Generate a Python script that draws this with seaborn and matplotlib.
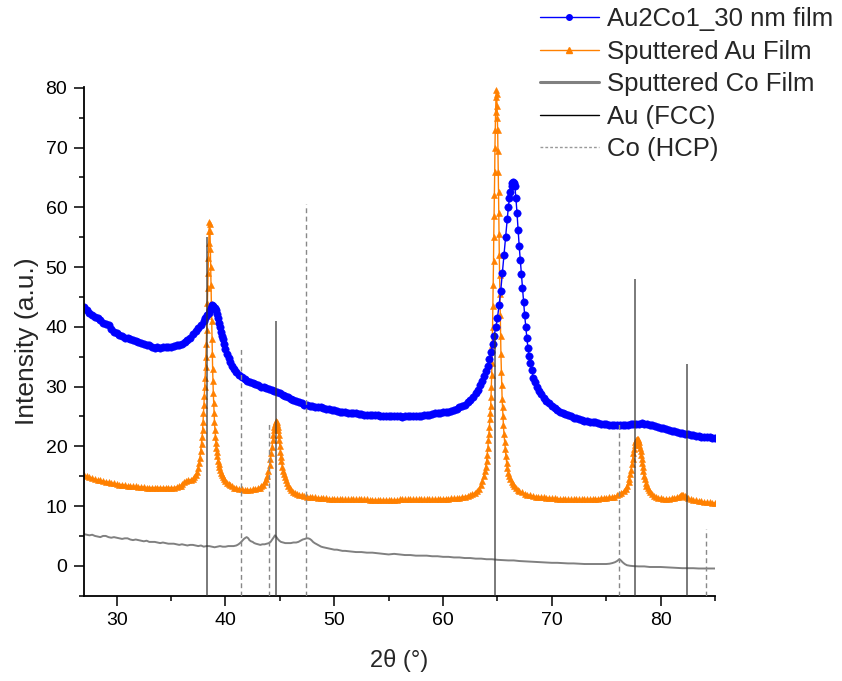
import matplotlib
matplotlib.use("Agg")
import matplotlib.pyplot as plt
import seaborn as sns
from matplotlib.lines import Line2D
from matplotlib.ticker import MultipleLocator

# ---------------- data ----------------
series_names = ["Au2Co1_30 nm film", "Sputtered Au Film", "Sputtered Co Film",
                "Au (FCC)", "Co (HCP)"]

blue_x = [27.0, 27.25, 27.5, 27.75, 28.0, 28.25, 28.5, 28.75, 29.0, 29.25,
          29.5, 29.75, 30.0, 30.25, 30.5, 30.75, 31.0, 31.25, 31.5, 31.75,
          32.0, 32.25, 32.5, 32.75, 33.0, 33.25, 33.5, 33.75, 34.0, 34.25,
          34.5, 34.75, 35.0, 35.25, 35.5, 35.75, 36.0, 36.25, 36.5, 36.75,
          37.0, 37.25, 37.5, 37.75, 38.0, 38.15, 38.3, 38.45, 38.6, 38.7,
          38.8, 38.9, 39.0, 39.1, 39.2, 39.3, 39.4, 39.5, 39.6, 39.7,
          39.8, 39.9, 40.0, 40.15, 40.3, 40.45, 40.6, 40.8, 41.0, 41.25,
          41.5, 41.75, 42.0, 42.25, 42.5, 42.75, 43.0, 43.25, 43.5, 43.75,
          44.0, 44.25, 44.5, 44.75, 45.0, 45.25, 45.5, 45.75, 46.0, 46.25,
          46.5, 46.75, 47.0, 47.25, 47.5, 47.75, 48.0, 48.25, 48.5, 48.75,
          49.0, 49.25, 49.5, 49.75, 50.0, 50.25, 50.5, 50.75, 51.0, 51.25,
          51.5, 51.75, 52.0, 52.25, 52.5, 52.75, 53.0, 53.25, 53.5, 53.75,
          54.0, 54.25, 54.5, 54.75, 55.0, 55.25, 55.5, 55.75, 56.0, 56.25,
          56.5, 56.75, 57.0, 57.25, 57.5, 57.75, 58.0, 58.25, 58.5, 58.75,
          59.0, 59.25, 59.5, 59.75, 60.0, 60.25, 60.5, 60.75, 61.0, 61.25,
          61.5, 61.75, 62.0, 62.25, 62.5, 62.75, 63.0, 63.2, 63.4, 63.6,
          63.8, 63.95, 64.1, 64.25, 64.4, 64.55, 64.7, 64.85, 65.0, 65.15,
          65.3, 65.45, 65.6, 65.75, 65.9, 66.0, 66.1, 66.2, 66.3, 66.38,
          66.45, 66.52, 66.6, 66.7, 66.8, 66.9, 67.0, 67.1, 67.2, 67.3,
          67.4, 67.5, 67.6, 67.7, 67.8, 67.9, 68.0, 68.15, 68.3, 68.45,
          68.6, 68.8, 69.0, 69.25, 69.5, 69.75, 70.0, 70.25, 70.5, 70.75,
          71.0, 71.25, 71.5, 71.75, 72.0, 72.25, 72.5, 72.75, 73.0, 73.25,
          73.5, 73.75, 74.0, 74.25, 74.5, 74.75, 75.0, 75.25, 75.5, 75.75,
          76.0, 76.25, 76.5, 76.75, 77.0, 77.25, 77.5, 77.75, 78.0, 78.25,
          78.5, 78.75, 79.0, 79.25, 79.5, 79.75, 80.0, 80.25, 80.5, 80.75,
          81.0, 81.25, 81.5, 81.75, 82.0, 82.25, 82.5, 82.75, 83.0, 83.25,
          83.5, 83.75, 84.0, 84.25, 84.5, 84.75, 85.0]
blue_y = [43.3, 42.8, 42.3, 41.9, 41.6, 41.5, 41.1, 40.7, 40.5, 40.3,
          39.6, 39.2, 38.9, 38.7, 38.4, 38.2, 38.1, 37.9, 37.8, 37.6,
          37.5, 37.3, 37.2, 37.0, 36.9, 36.7, 36.5, 36.6, 36.5, 36.6,
          36.6, 36.6, 36.7, 36.8, 36.9, 37.0, 37.2, 37.5, 37.8, 38.2,
          38.8, 39.3, 39.8, 40.3, 40.9, 41.4, 41.9, 42.3, 42.8, 43.2,
          43.6, 43.5, 43.2, 42.8, 42.2, 41.5, 40.7, 40.0, 39.2, 38.5,
          37.9, 37.1, 36.3, 35.5, 34.8, 34.1, 33.5, 32.9, 32.4, 32.0,
          31.6, 31.3, 31.0, 30.8, 30.6, 30.4, 30.2, 30.0, 29.9, 29.7,
          29.6, 29.4, 29.3, 29.1, 28.9, 28.6, 28.4, 28.2, 28.0, 27.8,
          27.6, 27.4, 27.2, 27.0, 26.9, 26.8, 26.7, 26.6, 26.6, 26.5,
          26.4, 26.3, 26.2, 26.1, 26.0, 25.9, 25.8, 25.8, 25.7, 25.6,
          25.6, 25.5, 25.5, 25.4, 25.4, 25.3, 25.3, 25.3, 25.2, 25.2,
          25.2, 25.1, 25.1, 25.1, 25.1, 25.0, 25.0, 25.0, 25.0, 24.9,
          25.0, 25.0, 25.0, 25.0, 25.0, 25.1, 25.1, 25.2, 25.2, 25.3,
          25.4, 25.5, 25.5, 25.6, 25.7, 25.8, 25.8, 25.9, 26.0, 26.2,
          26.5, 26.7, 27.0, 27.4, 27.8, 28.3, 28.9, 29.5, 30.2, 31.0,
          31.8, 32.6, 33.5, 34.6, 35.8, 37.1, 38.5, 40.0, 41.5, 43.6,
          46.0, 49.0, 52.0, 55.0, 58.0, 60.0, 61.5, 62.6, 63.5, 64.0,
          64.2, 64.0, 63.6, 61.5, 59.0, 56.2, 53.5, 51.2, 48.8, 46.5,
          44.2, 42.0, 40.0, 38.2, 36.5, 35.2, 34.0, 32.7, 31.5, 30.7,
          30.0, 29.3, 28.7, 28.1, 27.6, 27.2, 26.8, 26.4, 26.1, 25.8,
          25.6, 25.4, 25.2, 25.0, 24.8, 24.7, 24.5, 24.4, 24.3, 24.2,
          24.1, 24.1, 24.0, 23.9, 23.8, 23.8, 23.7, 23.6, 23.6, 23.5,
          23.5, 23.5, 23.6, 23.6, 23.6, 23.7, 23.7, 23.8, 23.8, 23.9,
          23.8, 23.7, 23.6, 23.5, 23.4, 23.2, 23.1, 23.0, 22.9, 22.7,
          22.6, 22.5, 22.4, 22.3, 22.2, 22.1, 22.0, 21.9, 21.9, 21.8,
          21.7, 21.6, 21.6, 21.5, 21.5, 21.4, 21.4]

orange_x = [27.0, 27.25, 27.5, 27.75, 28.0, 28.25, 28.5, 28.75, 29.0, 29.25,
            29.5, 29.75, 30.0, 30.25, 30.5, 30.75, 31.0, 31.25, 31.5, 31.75,
            32.0, 32.25, 32.5, 32.75, 33.0, 33.25, 33.5, 33.75, 34.0, 34.25,
            34.5, 34.75, 35.0, 35.25, 35.5, 35.75, 35.9, 36.05, 36.2, 36.4,
            36.6, 36.8, 37.0, 37.15, 37.3, 37.4, 37.5, 37.58, 37.65, 37.72,
            37.8, 37.85, 37.9, 37.94, 37.98, 38.02, 38.06, 38.1, 38.13, 38.17,
            38.2, 38.24, 38.27, 38.3, 38.34, 38.37, 38.4, 38.43, 38.46, 38.49,
            38.52, 38.55, 38.58, 38.61, 38.64, 38.67, 38.7, 38.73, 38.76, 38.79,
            38.82, 38.85, 38.88, 38.92, 38.95, 38.99, 39.03, 39.08, 39.12, 39.16,
            39.21, 39.26, 39.32, 39.38, 39.45, 39.52, 39.6, 39.7, 39.8, 39.9,
            40.0, 40.15, 40.3, 40.45, 40.6, 40.8, 41.0, 41.25, 41.5, 41.75,
            42.0, 42.25, 42.5, 42.75, 43.0, 43.15, 43.3, 43.45, 43.6, 43.72,
            43.85, 43.95, 44.05, 44.12, 44.2, 44.28, 44.35, 44.4, 44.45, 44.5,
            44.55, 44.6, 44.65, 44.7, 44.75, 44.8, 44.85, 44.9, 44.95, 45.0,
            45.05, 45.1, 45.15, 45.22, 45.3, 45.37, 45.45, 45.55, 45.65, 45.78,
            45.9, 46.05, 46.2, 46.4, 46.6, 46.8, 47.0, 47.25, 47.5, 47.75,
            48.0, 48.25, 48.5, 48.75, 49.0, 49.25, 49.5, 49.75, 50.0, 50.25,
            50.5, 50.75, 51.0, 51.25, 51.5, 51.75, 52.0, 52.25, 52.5, 52.75,
            53.0, 53.25, 53.5, 53.75, 54.0, 54.25, 54.5, 54.75, 55.0, 55.25,
            55.5, 55.75, 56.0, 56.25, 56.5, 56.75, 57.0, 57.25, 57.5, 57.75,
            58.0, 58.25, 58.5, 58.75, 59.0, 59.25, 59.5, 59.75, 60.0, 60.25,
            60.5, 60.75, 61.0, 61.25, 61.5, 61.75, 62.0, 62.25, 62.5, 62.7,
            62.9, 63.1, 63.3, 63.45, 63.6, 63.72, 63.85, 63.92, 64.0, 64.06,
            64.12, 64.17, 64.22, 64.26, 64.3, 64.34, 64.38, 64.41, 64.44, 64.47,
            64.5, 64.53, 64.55, 64.58, 64.61, 64.64, 64.66, 64.69, 64.72, 64.75,
            64.77, 64.8, 64.83, 64.87, 64.9, 64.93, 64.96, 64.99, 65.02, 65.05,
            65.07, 65.1, 65.12, 65.15, 65.17, 65.2, 65.23, 65.26, 65.29, 65.32,
            65.36, 65.4, 65.43, 65.47, 65.5, 65.55, 65.6, 65.66, 65.72, 65.78,
            65.85, 65.92, 66.0, 66.1, 66.2, 66.3, 66.4, 66.55, 66.7, 66.85,
            67.0, 67.25, 67.5, 67.75, 68.0, 68.25, 68.5, 68.75, 69.0, 69.25,
            69.5, 69.75, 70.0, 70.25, 70.5, 70.75, 71.0, 71.25, 71.5, 71.75,
            72.0, 72.25, 72.5, 72.75, 73.0, 73.25, 73.5, 73.75, 74.0, 74.25,
            74.5, 74.75, 75.0, 75.25, 75.5, 75.75, 76.0, 76.2, 76.4, 76.6,
            76.8, 76.93, 77.05, 77.12, 77.2, 77.28, 77.35, 77.42, 77.5, 77.56,
            77.62, 77.68, 77.75, 77.82, 77.88, 77.94, 78.0, 78.05, 78.1, 78.15,
            78.2, 78.25, 78.3, 78.36, 78.42, 78.48, 78.55, 78.62, 78.7, 78.8,
            78.9, 79.05, 79.2, 79.4, 79.6, 79.8, 80.0, 80.25, 80.5, 80.75,
            81.0, 81.25, 81.5, 81.65, 81.8, 81.9, 82.0, 82.1, 82.2, 82.35,
            82.5, 82.75, 83.0, 83.25, 83.5, 83.75, 84.0, 84.25, 84.5, 84.75,
            85.0]
orange_y = [15.2, 15.0, 14.9, 14.7, 14.5, 14.4, 14.3, 14.2, 14.1, 14.0,
            13.9, 13.8, 13.7, 13.6, 13.6, 13.5, 13.4, 13.4, 13.3, 13.3,
            13.2, 13.2, 13.2, 13.1, 13.1, 13.1, 13.1, 13.1, 13.1, 13.1,
            13.1, 13.1, 13.1, 13.1, 13.2, 13.3, 13.4, 13.7, 14.0, 14.2,
            14.3, 14.4, 14.6, 14.9, 15.2, 15.7, 16.4, 17.2, 18.0, 19.2,
            20.4, 21.6, 22.8, 24.1, 25.5, 27.0, 28.5, 30.0, 31.5, 33.2,
            35.0, 37.2, 39.5, 41.8, 44.0, 46.5, 49.0, 51.5, 54.0, 56.0,
            57.5, 57.2, 56.0, 53.0, 50.0, 47.0, 44.0, 41.0, 38.0, 35.5,
            33.0, 31.0, 29.0, 27.2, 25.5, 24.1, 22.8, 21.6, 20.5, 19.7,
            19.0, 18.3, 17.6, 17.1, 16.6, 16.1, 15.6, 15.2, 14.8, 14.5,
            14.2, 13.9, 13.7, 13.5, 13.3, 13.1, 13.0, 12.9, 12.8, 12.7,
            12.7, 12.7, 12.8, 12.9, 13.0, 13.1, 13.3, 13.6, 14.0, 14.5,
            15.0, 15.8, 16.8, 17.8, 18.8, 19.9, 21.0, 21.9, 22.7, 23.3,
            23.8, 24.1, 24.2, 24.1, 23.8, 23.3, 22.7, 21.9, 21.0, 20.0,
            19.0, 18.2, 17.5, 16.6, 15.8, 15.3, 14.8, 14.3, 13.8, 13.4,
            13.0, 12.7, 12.4, 12.2, 12.0, 11.9, 11.8, 11.7, 11.6, 11.55,
            11.5, 11.45, 11.4, 11.35, 11.3, 11.3, 11.25, 11.2, 11.2, 11.2,
            11.15, 11.1, 11.1, 11.1, 11.1, 11.1, 11.1, 11.1, 11.1, 11.1,
            11.1, 11.05, 11.05, 11.0, 11.0, 11.0, 11.0, 11.0, 11.0, 11.0,
            11.0, 11.05, 11.1, 11.1, 11.1, 11.1, 11.1, 11.1, 11.1, 11.1,
            11.1, 11.1, 11.1, 11.1, 11.1, 11.15, 11.15, 11.2, 11.2, 11.25,
            11.25, 11.3, 11.3, 11.35, 11.4, 11.5, 11.6, 11.7, 11.8, 12.0,
            12.2, 12.5, 12.9, 13.5, 14.2, 15.0, 15.8, 16.6, 17.5, 18.6,
            19.8, 21.0, 22.1, 23.3, 24.5, 25.6, 26.8, 28.3, 30.0, 32.0,
            34.0, 37.0, 40.0, 43.5, 47.0, 51.0, 55.0, 58.5, 62.0, 66.0,
            70.0, 73.0, 76.0, 78.5, 79.6, 79.0, 77.0, 75.0, 73.0, 69.5,
            66.0, 62.5, 59.0, 55.5, 52.0, 48.7, 45.5, 42.0, 38.5, 35.5,
            32.5, 30.2, 28.0, 26.5, 25.0, 23.5, 22.1, 20.8, 19.5, 18.3,
            17.2, 16.3, 15.6, 15.0, 14.5, 14.1, 13.7, 13.3, 13.0, 12.7,
            12.5, 12.3, 12.1, 11.9, 11.8, 11.7, 11.6, 11.55, 11.5, 11.45,
            11.4, 11.35, 11.3, 11.3, 11.25, 11.2, 11.2, 11.15, 11.15, 11.1,
            11.1, 11.1, 11.1, 11.1, 11.1, 11.15, 11.15, 11.2, 11.2, 11.25,
            11.3, 11.35, 11.4, 11.45, 11.5, 11.6, 11.8, 12.0, 12.2, 12.5,
            12.9, 13.4, 14.0, 14.6, 15.3, 16.1, 17.0, 17.9, 18.8, 19.5,
            20.2, 20.7, 21.0, 21.2, 21.3, 21.1, 20.8, 20.3, 19.8, 19.2,
            18.5, 17.8, 17.2, 16.5, 15.8, 15.1, 14.5, 13.9, 13.4, 13.0,
            12.7, 12.3, 12.0, 11.7, 11.5, 11.4, 11.3, 11.25, 11.2, 11.25,
            11.3, 11.4, 11.5, 11.6, 11.7, 11.8, 11.8, 11.8, 11.7, 11.5,
            11.3, 11.1, 11.0, 10.95, 10.9, 10.8, 10.7, 10.65, 10.6, 10.55,
            10.5]

gray_x = [27.0, 27.25, 27.5, 27.75, 28.0, 28.25, 28.5, 28.75, 29.0, 29.25,
          29.5, 29.75, 30.0, 30.25, 30.5, 30.75, 31.0, 31.25, 31.5, 31.75,
          32.0, 32.25, 32.5, 32.75, 33.0, 33.25, 33.5, 33.75, 34.0, 34.25,
          34.5, 34.75, 35.0, 35.25, 35.5, 35.75, 36.0, 36.25, 36.5, 36.75,
          37.0, 37.25, 37.5, 37.75, 38.0, 38.25, 38.5, 38.75, 39.0, 39.25,
          39.5, 39.75, 40.0, 40.25, 40.5, 40.75, 41.0, 41.2, 41.4, 41.55,
          41.7, 41.85, 41.95, 42.1, 42.2, 42.35, 42.5, 42.65, 42.8, 43.0,
          43.2, 43.4, 43.6, 43.8, 44.0, 44.15, 44.3, 44.45, 44.55, 44.65,
          44.8, 44.95, 45.1, 45.3, 45.5, 45.75, 46.0, 46.25, 46.5, 46.7,
          46.9, 47.1, 47.3, 47.45, 47.6, 47.75, 47.9, 48.05, 48.2, 48.4,
          48.6, 48.8, 49.0, 49.25, 49.5, 49.75, 50.0, 50.25, 50.5, 50.75,
          51.0, 51.5, 52.0, 52.5, 53.0, 53.5, 54.0, 54.5, 55.0, 55.5,
          56.0, 56.5, 57.0, 57.5, 58.0, 58.5, 59.0, 59.5, 60.0, 60.5,
          61.0, 61.5, 62.0, 62.5, 63.0, 63.5, 64.0, 64.5, 65.0, 65.5,
          66.0, 66.5, 67.0, 67.5, 68.0, 68.5, 69.0, 69.5, 70.0, 70.5,
          71.0, 71.5, 72.0, 72.5, 73.0, 73.5, 74.0, 74.5, 75.0, 75.3,
          75.55, 75.8, 76.0, 76.2, 76.35, 76.5, 76.7, 76.9, 77.2, 77.5,
          78.0, 78.5, 79.0, 79.5, 80.0, 80.5, 81.0, 81.5, 82.0, 82.5,
          83.0, 83.5, 84.0, 84.5, 85.0]
gray_y = [5.3, 5.2, 5.1, 5.2, 5.0, 4.9, 4.8, 5.0, 5.0, 4.8,
          4.7, 4.8, 4.7, 4.6, 4.5, 4.6, 4.6, 4.4, 4.3, 4.4,
          4.3, 4.2, 4.1, 4.2, 4.0, 4.0, 4.0, 3.9, 3.8, 3.9,
          3.8, 3.7, 3.7, 3.7, 3.6, 3.5, 3.6, 3.5, 3.4, 3.5,
          3.5, 3.4, 3.3, 3.4, 3.2, 3.3, 3.3, 3.2, 3.1, 3.2,
          3.3, 3.2, 3.2, 3.3, 3.3, 3.3, 3.4, 3.6, 3.9, 4.2,
          4.5, 4.7, 4.8, 4.6, 4.3, 4.1, 4.0, 3.8, 3.7, 3.6,
          3.5, 3.6, 3.6, 3.7, 3.8, 4.0, 4.4, 4.8, 5.1, 4.9,
          4.5, 4.2, 4.0, 3.9, 3.8, 3.8, 3.8, 3.9, 3.9, 4.0,
          4.2, 4.4, 4.5, 4.6, 4.6, 4.5, 4.3, 4.0, 3.8, 3.6,
          3.4, 3.2, 3.1, 3.0, 2.9, 2.8, 2.7, 2.7, 2.6, 2.5,
          2.5, 2.4, 2.3, 2.3, 2.2, 2.2, 2.1, 2.0, 1.9, 2.0,
          1.9, 1.8, 1.8, 1.7, 1.7, 1.7, 1.6, 1.6, 1.5, 1.5,
          1.4, 1.4, 1.3, 1.3, 1.2, 1.2, 1.1, 1.1, 1.0, 0.95,
          0.9, 0.9, 0.8, 0.75, 0.7, 0.65, 0.6, 0.55, 0.5, 0.5,
          0.45, 0.4, 0.4, 0.35, 0.3, 0.3, 0.3, 0.3, 0.3, 0.35,
          0.45, 0.6, 0.8, 1.1, 0.9, 0.6, 0.3, 0.1, 0.0, -0.05,
          -0.1, -0.1, -0.2, -0.2, -0.2, -0.25, -0.3, -0.35, -0.4, -0.4,
          -0.4, -0.45, -0.45, -0.45, -0.45]

au_fcc_pos = [38.32, 44.68, 64.77, 77.64, 82.42]
au_fcc_int = [55.0, 41.0, 39.0, 48.0, 33.8]
co_hcp_pos = [41.42, 43.97, 47.37, 76.16, 84.17]
co_hcp_int = [36.3, 24.3, 60.6, 24.1, 6.2]

x_ticks = [30, 40, 50, 60, 70, 80]
y_ticks = [0, 10, 20, 30, 40, 50, 60, 70, 80]

# ---------------- styling ----------------
sns.set_style("ticks")
plt.rcParams["font.family"] = ["Liberation Sans", "DejaVu Sans"]

blue_c = "#0000FF"
orange_c = "#FF8000"
gray_c = "#808080"

fig = plt.figure(figsize=(8.42, 6.81), dpi=100)
ax = fig.add_axes([0.0998, 0.1253, 0.7494, 0.7474])

sns.lineplot(x=gray_x, y=gray_y, ax=ax, color=gray_c, linewidth=1.4,
             sort=False, estimator=None)
sns.lineplot(x=orange_x, y=orange_y, ax=ax, color=orange_c, linewidth=1.0,
             marker="^", markersize=5, markeredgewidth=0.4,
             markeredgecolor=orange_c, sort=False, estimator=None)
sns.lineplot(x=blue_x, y=blue_y, ax=ax, color=blue_c, linewidth=1.0,
             marker="o", markersize=5.3, markeredgewidth=0.4,
             markeredgecolor=blue_c, sort=False, estimator=None)

ylo, yhi = -5, 80.2
ax.vlines(au_fcc_pos, ylo, au_fcc_int, colors="#333333", linewidth=1.3,
          alpha=0.7, zorder=5)
ax.vlines(co_hcp_pos, ylo, co_hcp_int, colors="#888888", linewidth=1.0,
          linestyles=(0, (3.5, 2.5)), zorder=5)

ax.set_xlim(27, 85)
ax.set_ylim(ylo, yhi)
ax.set_xticks(x_ticks)
ax.set_yticks(y_ticks)
ax.xaxis.set_minor_locator(MultipleLocator(5))
ax.yaxis.set_minor_locator(MultipleLocator(5))
ax.tick_params(axis="both", which="major", direction="out", length=7, width=1.1,
               labelsize=14, pad=5, color="black", labelcolor="black")
ax.tick_params(axis="both", which="minor", direction="out", length=3.5, width=1.1,
               color="black")
sns.despine(ax=ax, top=True, right=True)
for s in ["left", "bottom"]:
    ax.spines[s].set_color("black")
    ax.spines[s].set_linewidth(1.3)

ax.set_xlabel("2θ (°)", fontsize=17, labelpad=14)
ax.set_ylabel("Intensity (a.u.)", fontsize=19, labelpad=5)

handles = [
    Line2D([], [], color=blue_c, lw=1.0, marker="o", markersize=4),
    Line2D([], [], color=orange_c, lw=1.0, marker="^", markersize=4),
    Line2D([], [], color=gray_c, lw=2.2),
    Line2D([], [], color="black", lw=1.0),
    Line2D([], [], color="#999999", lw=1.0, linestyle=(0, (2, 1.5))),
]
fig.legend(handles, series_names, loc="upper left", bbox_to_anchor=(0.641, 0.989),
           frameon=False, fontsize=18.5, handlelength=2.3, handletextpad=0.3,
           labelspacing=0.33, borderpad=0, borderaxespad=0, numpoints=1)

fig.savefig("out.png", dpi=100)
